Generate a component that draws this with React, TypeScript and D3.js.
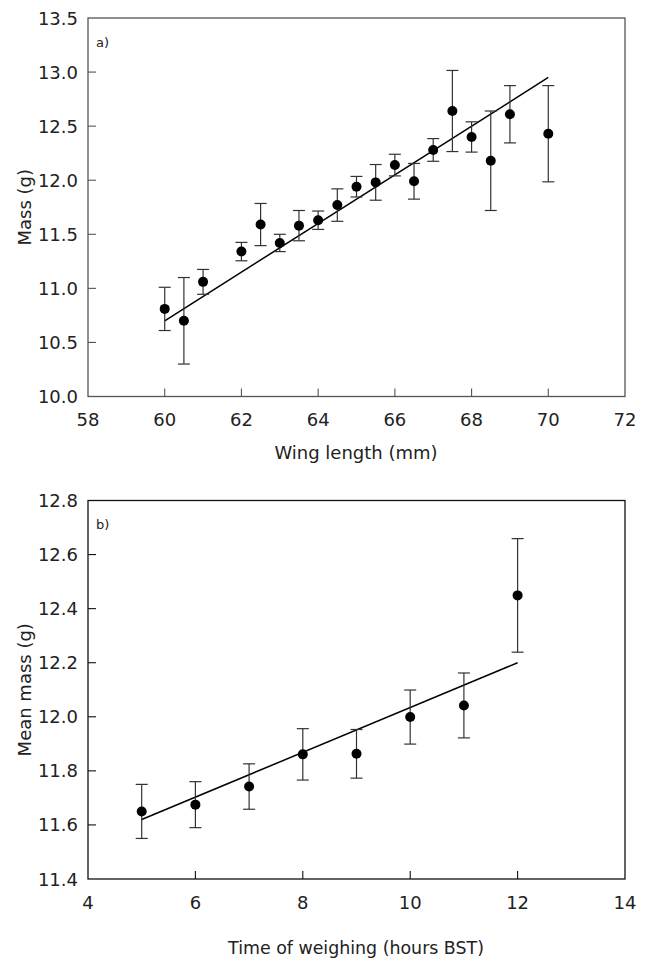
import React from "react";
import * as d3 from "d3";

// Panel a
const wingLength = [60, 60.5, 61, 62, 62.5, 63, 63.5, 64, 64.5, 65, 65.5, 66, 66.5, 67, 67.5, 68, 68.5, 69, 70];
const massA = [10.81, 10.7, 11.06, 11.34, 11.59, 11.42, 11.58, 11.63, 11.77, 11.94, 11.98, 12.14, 11.99, 12.28, 12.64, 12.4, 12.18, 12.61, 12.43];
const errA = [0.2, 0.4, 0.115, 0.085, 0.195, 0.08, 0.14, 0.085, 0.15, 0.095, 0.165, 0.1, 0.165, 0.105, 0.375, 0.14, 0.46, 0.265, 0.445];
const fitAX = [60, 70];
const fitAY = [10.7, 12.95];
const xTicksA = [58, 60, 62, 64, 66, 68, 70, 72];
const yTicksA = [10, 10.5, 11, 11.5, 12, 12.5, 13, 13.5];

// Panel b
const hours = [5, 6, 7, 8, 9, 10, 11, 12];
const massB = [11.65, 11.675, 11.742, 11.861, 11.863, 11.999, 12.042, 12.449];
const errB = [0.1, 0.085, 0.084, 0.095, 0.09, 0.1, 0.12, 0.21];
const fitBX = [5, 12];
const fitBY = [11.62, 12.2];
const xTicksB = [4, 6, 8, 10, 12, 14];
const yTicksB = [11.4, 11.6, 11.8, 12.0, 12.2, 12.4, 12.6, 12.8];

const FONT = "DejaVu Sans";

type PanelProps = {
  top: number;
  bottom: number;
  xs: number[];
  ys: number[];
  es: number[];
  fx: number[];
  fy: number[];
  xTicks: number[];
  yTicks: number[];
  xFmt: (v: number) => string;
  yFmt: (v: number) => string;
  label: string;
  xTitle: string;
  yTitle: string;
  xTitleY: number;
  xTitleSize: number;
  frameColor: string;
};

function Panel(p: PanelProps) {
  const left = 88;
  const right = 625;
  const x = d3.scaleLinear().domain([p.xTicks[0], p.xTicks[p.xTicks.length - 1]]).range([left, right]);
  const y = d3.scaleLinear().domain([p.yTicks[0], p.yTicks[p.yTicks.length - 1]]).range([p.bottom, p.top]);
  const line = d3.line<number>().x((_, i) => x(p.fx[i])).y((d) => y(d));
  const tickLen = 8;
  const cap = 6;
  return (
    <g>
      <rect x={left} y={p.top} width={right - left} height={p.bottom - p.top} fill="none" stroke={p.frameColor} strokeWidth={1.3} />
      {p.xTicks.slice(1, -1).map((t) => (
        <line key={"xt" + t} x1={x(t)} x2={x(t)} y1={p.bottom} y2={p.bottom - tickLen} stroke={p.frameColor} strokeWidth={1.1} />
      ))}
      {p.yTicks.slice(1, -1).map((t) => (
        <line key={"yt" + t} x1={left} x2={left + tickLen} y1={y(t)} y2={y(t)} stroke={p.frameColor} strokeWidth={1.1} />
      ))}
      {p.xTicks.map((t) => (
        <text key={"xl" + t} x={x(t)} y={p.bottom + 29.5} textAnchor="middle" fontFamily={FONT} fontSize={18} fill="#222">
          {p.xFmt(t)}
        </text>
      ))}
      {p.yTicks.map((t) => (
        <text key={"yl" + t} x={left - 10} y={y(t) + 6.5} textAnchor="end" fontFamily={FONT} fontSize={18} fill="#222">
          {p.yFmt(t)}
        </text>
      ))}
      <text x={96} y={p.top + 28.5} fontFamily={FONT} fontSize={13} fill="#222">
        {p.label}
      </text>
      <text x={356} y={p.xTitleY} textAnchor="middle" fontFamily={FONT} fontSize={p.xTitleSize} fill="#222">
        {p.xTitle}
      </text>
      <text
        transform={`translate(31,${(p.top + p.bottom) / 2}) rotate(-90)`}
        textAnchor="middle"
        fontFamily={FONT}
        fontSize={18}
        fill="#222"
      >
        {p.yTitle}
      </text>
      <path d={line(p.fy) || ""} fill="none" stroke="#000" strokeWidth={1.5} />
      {p.xs.map((v, i) => {
        const cx = x(v);
        const y1 = y(p.ys[i] + p.es[i]);
        const y2 = y(p.ys[i] - p.es[i]);
        return (
          <g key={"pt" + i}>
            <line x1={cx} x2={cx} y1={y1} y2={y2} stroke="#333" strokeWidth={1.2} />
            <line x1={cx - cap} x2={cx + cap} y1={y1} y2={y1} stroke="#333" strokeWidth={1.2} />
            <line x1={cx - cap} x2={cx + cap} y1={y2} y2={y2} stroke="#333" strokeWidth={1.2} />
            <circle cx={cx} cy={y(p.ys[i])} r={5} fill="#000" />
          </g>
        );
      })}
    </g>
  );
}

export default function App() {
  const f0 = d3.format("d");
  const f1 = d3.format(".1f");
  return (
    <svg width={648} height={963} style={{ position: "absolute", left: 0, top: 0, background: "#fff" }}>
      <rect width={648} height={963} fill="#fff" />
      <Panel
        top={18}
        bottom={396.5}
        xs={wingLength}
        ys={massA}
        es={errA}
        fx={fitAX}
        fy={fitAY}
        xTicks={xTicksA}
        yTicks={yTicksA}
        xFmt={f0}
        yFmt={f1}
        label="a)"
        xTitle="Wing length (mm)"
        yTitle="Mass (g)"
        xTitleY={459}
        xTitleSize={18}
        frameColor="#555"
      />
      <Panel
        top={500.5}
        bottom={879}
        xs={hours}
        ys={massB}
        es={errB}
        fx={fitBX}
        fy={fitBY}
        xTicks={xTicksB}
        yTicks={yTicksB}
        xFmt={f0}
        yFmt={f1}
        label="b)"
        xTitle="Time of weighing (hours BST)"
        yTitle="Mean mass (g)"
        xTitleY={954}
        xTitleSize={17.4}
        frameColor="#111"
      />
    </svg>
  );
}
